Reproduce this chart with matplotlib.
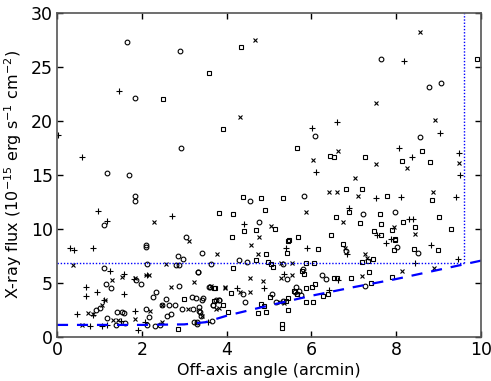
import matplotlib
matplotlib.use("Agg")
import matplotlib.pyplot as plt
import numpy as np

# --- data ---
circle_x = [1.65, 2.91, 7.65, 8.76, 9.06, 1.84, 2.92, 1.18, 1.71, 6.08, 8.56,
            1.83, 1.83, 1.10, 3.04, 4.54, 5.82, 4.77, 7.21, 7.96, 2.10, 2.10,
            2.12, 2.86, 2.98, 2.80, 2.88, 1.10, 1.16, 1.28, 1.87, 1.98, 2.34, 2.27, 2.88,
            3.33, 3.42, 3.64, 3.58, 3.18, 3.28, 3.44, 3.67, 3.81, 2.95, 3.20, 3.38,
            3.22, 3.30, 3.66, 2.09, 2.16, 2.12, 2.30, 2.42, 2.60, 2.70, 2.48, 2.56, 2.65, 2.78,
            1.41, 1.53, 1.59, 1.19, 1.40, 1.61, 0.92, 1.02, 4.29, 4.47, 5.33, 3.33,
            6.24, 6.34, 5.42, 3.61, 4.39, 5.06, 5.63, 5.71, 5.60, 5.75, 5.34, 5.16,
            3.75, 3.83, 3.69, 4.43, 3.41, 3.36, 3.36, 3.40, 3.31, 6.82, 8.02, 8.52, 7.27, 5.80]
circle_y = [27.3, 26.4, 25.7, 23.1, 23.5, 22.1, 17.5, 15.15, 14.95, 18.6, 18.5,
            12.6, 13.0, 10.3, 9.2, 12.6, 13.0, 10.65, 11.33, 11.57, 8.3, 8.5,
            6.78, 7.45, 7.22, 6.64, 6.6, 6.39, 4.88, 4.54, 5.22, 4.9, 4.1, 3.7, 4.7,
            5.96, 7.72, 6.78, 4.63, 3.7, 3.56, 3.56, 2.94, 3.4, 2.6, 2.55, 2.31,
            1.36, 1.2, 1.45, 2.54, 1.8, 1.05, 1.02, 1.05, 1.9, 2.1, 2.94, 3.46, 2.9, 2.9,
            2.29, 2.29, 2.16, 1.7, 1.05, 1.24, 2.47, 2.63, 7.07, 6.92, 6.7, 6.02,
            5.68, 5.31, 5.34, 4.63, 3.93, 3.98, 4.57, 4.27, 4.1, 3.9, 3.3, 3.24,
            3.37, 3.37, 2.9, 3.24, 3.4, 2.72, 2.38, 1.9, 1.33, 7.93, 8.28, 7.78, 4.72, 6.3]

plus_x = [0.02, 0.59, 1.47, 8.17, 6.61, 6.02, 9.04, 6.11, 8.06, 8.38, 9.47, 9.49,
          7.51, 8.11, 9.40, 6.88, 8.29, 8.40, 7.55, 7.87, 4.41, 0.96, 1.19, 2.72,
          0.30, 0.41, 0.84, 1.26, 1.58, 1.81, 2.12, 0.69, 0.69, 0.94, 1.57, 5.41,
          5.89, 6.84, 7.76, 8.82, 8.45, 9.45, 6.63, 4.24, 4.88, 5.35, 6.42, 3.57,
          2.07, 1.90, 1.85, 1.50, 0.47, 0.84, 0.77, 1.06, 1.19, 1.12]
plus_y = [18.7, 16.6, 22.7, 25.5, 19.85, 19.35, 18.9, 15.25, 17.5, 16.6, 17.0, 15.0,
          12.8, 12.96, 12.96, 11.9, 10.87, 10.87, 9.44, 9.07, 10.4, 11.67, 10.74, 11.18,
          8.18, 8.0, 8.18, 6.08, 5.78, 5.34, 5.75, 4.57, 3.8, 4.14, 3.95, 8.24,
          8.18, 7.63, 8.65, 8.49, 6.8, 7.19, 5.25, 4.48, 4.48, 5.78, 4.32, 1.33,
          1.33, 0.62, 2.38, 1.45, 2.07, 2.0, 1.02, 1.02, 1.1, 3.4]

cross_x = [4.67, 8.56, 4.31, 7.52, 8.90, 6.04, 6.63, 9.47, 7.53, 8.25, 7.02, 6.42,
           6.60, 7.10, 8.86, 5.87, 6.75, 5.04, 4.77, 7.94, 8.43, 2.29, 3.11, 0.38,
           2.57, 1.29, 1.53, 1.85, 2.09, 2.17, 2.70, 3.23, 3.78, 3.63, 3.97, 3.75,
           3.08, 3.43, 2.20, 1.84, 2.48, 1.33, 1.45, 0.72, 0.84, 0.59, 1.14, 1.06,
           4.57, 4.74, 5.29, 5.53, 4.56, 4.85, 5.27, 5.55, 3.96, 4.31, 4.55, 5.26,
           5.36, 3.83, 6.78, 7.25, 7.30, 8.88, 8.14, 7.19, 2.48]
cross_y = [27.5, 28.2, 20.3, 21.6, 20.1, 16.4, 17.2, 16.1, 16.0, 15.6, 14.65, 13.37,
           13.37, 13.05, 13.4, 11.55, 10.6, 10.25, 9.26, 10.19, 9.5, 10.6, 8.9, 6.6,
           6.72, 5.3, 5.56, 5.46, 5.71, 5.71, 4.63, 5.03, 7.66, 4.7, 4.57, 2.56,
           2.55, 1.92, 2.4, 1.67, 1.33, 1.6, 1.6, 2.22, 2.07, 1.05, 3.37, 2.94,
           8.49, 7.63, 6.82, 6.85, 5.46, 5.16, 5.46, 5.71, 4.54, 4.17, 4.17, 3.2,
           3.09, 2.63, 8.24, 7.63, 7.3, 6.39, 6.08, 5.65, 2.94]

square_x = [4.33, 3.58, 2.51, 3.92, 9.90, 5.67, 6.43, 6.53, 8.61, 8.14, 8.80, 7.27,
            6.81, 7.20, 7.78, 8.85, 4.38, 4.80, 5.32, 3.82, 4.16, 4.91, 6.58, 6.88,
            7.14, 7.62, 7.65, 7.90, 8.16, 8.45, 9.00, 9.30, 7.47, 7.63, 7.96, 4.41,
            4.69, 5.14, 4.13, 5.68, 5.46, 6.46, 5.44, 5.43, 6.16, 4.92, 4.69, 4.98,
            5.04, 5.10, 4.15, 5.86, 6.07, 5.78, 5.82, 6.52, 3.72, 4.10, 5.02, 5.58,
            5.67, 5.87, 6.02, 6.08, 5.44, 5.40, 3.71, 3.92, 4.04, 4.82, 4.88, 4.74,
            4.92, 5.45, 5.31, 5.31, 5.86, 6.04, 6.27, 6.38, 2.99, 2.85, 6.74, 7.98,
            7.94, 8.41, 8.99, 7.18, 7.33, 7.46, 7.90, 7.36, 6.92, 6.59, 7.41, 3.71]
square_y = [26.85, 24.4, 22.0, 19.2, 25.7, 17.5, 16.7, 16.6, 17.2, 16.3, 16.2, 16.6,
            13.65, 13.65, 13.05, 12.66, 12.96, 12.85, 12.8, 11.42, 11.33, 11.73, 11.1, 11.57,
            10.56, 11.33, 10.4, 9.88, 10.65, 10.19, 11.1, 10.0, 9.78, 9.39, 9.07, 9.8,
            9.9, 10.0, 9.26, 9.26, 9.0, 9.4, 8.86, 7.72, 8.12, 7.69, 7.1, 6.94,
            6.7, 6.48, 6.36, 6.82, 6.82, 6.08, 5.78, 5.4, 4.54, 4.07, 3.68, 4.26,
            3.93, 4.48, 4.57, 4.88, 3.56, 3.3, 3.3, 2.94, 2.26, 3.03, 2.87, 2.17,
            2.26, 2.44, 1.2, 0.8, 3.18, 3.24, 3.77, 3.93, 3.46, 0.71, 8.55, 8.98,
            8.03, 8.12, 8.06, 6.89, 7.04, 7.19, 5.56, 6.02, 5.46, 5.46, 4.94, 4.48]

# sensitivity curve (dashed) and completeness limits (dotted)
curve_x = [0.0, 1.0, 2.0, 3.0, 3.5, 4.0, 5.0, 6.0, 7.0, 8.0, 9.0, 10.0]
curve_y = [1.1, 1.1, 1.1, 1.15, 1.35, 1.95, 2.9, 3.8, 4.6, 5.35, 6.2, 7.05]
flux_limit = 6.8
angle_limit = 9.6

x_ticks = [0, 2, 4, 6, 8, 10]
y_ticks = [0, 5, 10, 15, 20, 25, 30]

fig = plt.figure(figsize=(4.91, 3.81), dpi=100)
ax = fig.add_axes([0.116, 0.116, 0.864, 0.851])

mk = dict(linestyle='none', color='black', markerfacecolor='none', markeredgewidth=0.8)
ax.plot(circle_x, circle_y, marker='o', markersize=3.4, **mk)
ax.plot(plus_x, plus_y, marker='+', markersize=4.0, **mk)
ax.plot(cross_x, cross_y, marker='x', markersize=3.2, **mk)
ax.plot(square_x, square_y, marker='s', markersize=3.5, **mk)

ax.plot(curve_x, curve_y, color='blue', linestyle=(0, (5, 4)), linewidth=1.6)
ax.plot([0, angle_limit], [flux_limit, flux_limit], color='blue', linestyle=(0, (1, 1.3)), linewidth=1.0)
ax.plot([angle_limit, angle_limit], [flux_limit, 30], color='blue', linestyle=(0, (1, 1.3)), linewidth=1.0)

ax.set_xlim(0, 10)
ax.set_ylim(0, 30)
ax.set_xticks(x_ticks)
ax.set_yticks(y_ticks)
ax.tick_params(direction='in', top=True, right=True, length=4, width=1, labelsize=12.5, pad=3)
for s in ax.spines.values():
    s.set_color('#555555')
    s.set_linewidth(1.2)
ax.set_xlabel('Off-axis angle (arcmin)', fontsize=11.5, labelpad=3)
ax.set_ylabel(r'X-ray flux ($10^{-15}$ erg s$^{-1}$ cm$^{-2}$)', fontsize=11.5, labelpad=5)

fig.savefig('out.png', dpi=100)
